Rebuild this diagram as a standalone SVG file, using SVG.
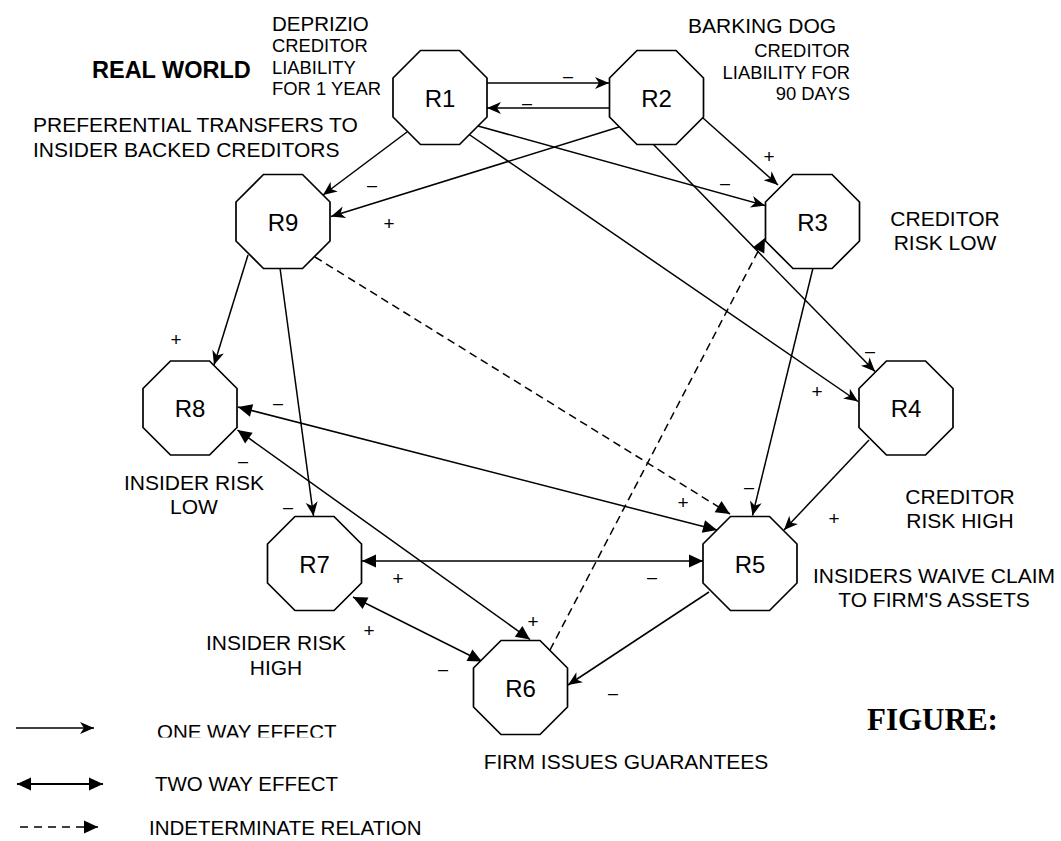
<svg xmlns="http://www.w3.org/2000/svg" width="1061" height="841" viewBox="0 0 1061 841">
<style>
.oct{fill:#fff;stroke:#000;stroke-width:1.7}
.nl{font-family:"Liberation Sans",Arial,sans-serif;font-size:24px;text-anchor:middle;fill:#000}
.t{font-family:"Liberation Sans",Arial,sans-serif;font-size:21px;fill:#000}
.s{font-family:"Liberation Sans",Arial,sans-serif;font-size:18.4px;fill:#000}
.m{text-anchor:middle}
.e{text-anchor:end}
.sg{font-family:"Liberation Sans",Arial,sans-serif;font-size:18px;text-anchor:middle;fill:#000}
.pl{font-size:19px}
.ln{fill:none;stroke:#000;stroke-width:1.5}
.one{marker-end:url(#a1)}
.two{marker-start:url(#a2);marker-end:url(#a2)}
.dsh{stroke-dasharray:8 5;marker-end:url(#a2)}
</style>
<defs>
<polygon id="oct" class="oct" points="-19.5,-47 19.5,-47 47,-19.5 47,19.5 19.5,47 -19.5,47 -47,19.5 -47,-19.5"/>
<marker id="a1" markerUnits="userSpaceOnUse" markerWidth="16" markerHeight="14" refX="14" refY="6" orient="auto" overflow="visible">
<path d="M0,0 L14,6 L0,12 L4,6 Z" fill="#000"/>
</marker>
<marker id="a2" markerUnits="userSpaceOnUse" markerWidth="16" markerHeight="14" refX="14" refY="6.5" orient="auto-start-reverse" overflow="visible">
<path d="M0,0 L14,6.5 L0,13 Z" fill="#000"/>
</marker>
<clipPath id="clipOne"><rect x="100" y="700" width="300" height="37.5"/></clipPath>
</defs>
<rect width="1061" height="841" fill="#fff"/>

<g id="connectors">
<line class="ln one" x1="487" y1="83" x2="609" y2="83"/>
<line class="ln one" x1="609" y1="108" x2="487" y2="108"/>
<line class="ln one" x1="407" y1="132" x2="323" y2="195"/>
<line class="ln one" x1="619" y1="127" x2="331" y2="216.5"/>
<line class="ln one" x1="478" y1="126" x2="765" y2="205.5"/>
<line class="ln one" x1="467" y1="133" x2="858" y2="401.5"/>
<line class="ln one" x1="703" y1="118" x2="778" y2="185"/>
<line class="ln one" x1="653" y1="144" x2="875" y2="371.5"/>
<line class="ln one" x1="813" y1="268" x2="752.5" y2="515.5"/>
<line class="ln one" x1="869" y1="440" x2="784" y2="530"/>
<line class="ln one" x1="248" y1="255" x2="214" y2="365"/>
<line class="ln one" x1="280" y1="268" x2="313.5" y2="516"/>
<line class="ln one" x1="709" y1="592" x2="568" y2="685"/>
<line class="ln dsh" x1="315" y1="257" x2="730" y2="514"/>
<line class="ln dsh" x1="550" y1="650" x2="765" y2="238"/>
<line class="ln two" x1="238" y1="407" x2="717" y2="530"/>
<line class="ln two" x1="237.5" y1="430" x2="530" y2="639.5"/>
<line class="ln two" x1="362" y1="561" x2="703" y2="561"/>
<line class="ln two" x1="353" y1="597" x2="482" y2="661.5"/>
</g>

<g id="signs">
<text class="sg" x="568" y="82">–</text>
<text class="sg" x="527" y="109">–</text>
<text class="sg" x="372" y="191">–</text>
<text class="sg pl" x="389" y="230">+</text>
<text class="sg" x="725" y="189">–</text>
<text class="sg pl" x="769" y="163">+</text>
<text class="sg" x="870" y="357">–</text>
<text class="sg pl" x="817" y="398">+</text>
<text class="sg" x="749" y="493">–</text>
<text class="sg pl" x="834" y="525">+</text>
<text class="sg pl" x="683" y="509">+</text>
<text class="sg" x="278" y="409">–</text>
<text class="sg" x="243" y="467">–</text>
<text class="sg" x="288" y="513">–</text>
<text class="sg pl" x="176" y="346">+</text>
<text class="sg pl" x="398" y="585">+</text>
<text class="sg" x="652" y="583">–</text>
<text class="sg pl" x="369" y="637">+</text>
<text class="sg" x="443" y="675">–</text>
<text class="sg pl" x="533" y="628">+</text>
<text class="sg" x="613" y="699">–</text>
</g>

<g id="R1"><use href="#oct" x="440" y="97.5"/><text class="nl" x="440" y="106.5">R1</text></g>
<g id="R2"><use href="#oct" x="656.5" y="97.5"/><text class="nl" x="656.5" y="106.5">R2</text></g>
<g id="R3"><use href="#oct" x="812.5" y="221.5"/><text class="nl" x="812.5" y="230.5">R3</text></g>
<g id="R4"><use href="#oct" x="906" y="408"/><text class="nl" x="906" y="417">R4</text></g>
<g id="R5"><use href="#oct" x="750" y="563.5"/><text class="nl" x="750" y="572.5">R5</text></g>
<g id="R6"><use href="#oct" x="520.5" y="687.5"/><text class="nl" x="520.5" y="696.5">R6</text></g>
<g id="R7"><use href="#oct" x="314.5" y="563.5"/><text class="nl" x="314.5" y="572.5">R7</text></g>
<g id="R8"><use href="#oct" x="190" y="408"/><text class="nl" x="190" y="417">R8</text></g>
<g id="R9"><use href="#oct" x="283" y="221.5"/><text class="nl" x="283" y="230.5">R9</text></g>

<g id="labels">
<text class="t" x="92" y="78" style="font-weight:bold;font-size:23.5px">REAL WORLD</text>
<text class="t" x="272" y="31" style="font-size:20.5px">DEPRIZIO</text>
<text class="s" x="272" y="52">CREDITOR</text>
<text class="s" x="272" y="73.5">LIABILITY</text>
<text class="s" x="272" y="94.5">FOR 1 YEAR</text>
<text class="t" x="33" y="132">PREFERENTIAL TRANSFERS TO</text>
<text class="t" x="33" y="157">INSIDER BACKED CREDITORS</text>
<text class="t" x="688" y="32.5">BARKING DOG</text>
<text class="s e" x="850" y="57">CREDITOR</text>
<text class="s e" x="850" y="78.5">LIABILITY FOR</text>
<text class="s e" x="850" y="99.5">90 DAYS</text>
<text class="t m" x="945" y="226">CREDITOR</text>
<text class="t m" x="945" y="249.5">RISK LOW</text>
<text class="t m" x="960" y="503.5">CREDITOR</text>
<text class="t m" x="960" y="527.5">RISK HIGH</text>
<text class="t m" x="934" y="583">INSIDERS WAIVE CLAIM</text>
<text class="t m" x="934" y="607">TO FIRM'S ASSETS</text>
<text class="t m" x="194" y="489.5">INSIDER RISK</text>
<text class="t m" x="194" y="514">LOW</text>
<text class="t m" x="276" y="650">INSIDER RISK</text>
<text class="t m" x="276" y="674.5">HIGH</text>
<text class="t m" x="626" y="768.5">FIRM ISSUES GUARANTEES</text>
<text x="867" y="730" style="font-family:'Liberation Serif','Times New Roman',serif;font-weight:bold;font-size:31px">FIGURE:</text>
</g>

<g id="legend">
<line class="ln one" x1="16" y1="728" x2="94" y2="728"/>
<text class="t" x="157" y="739" clip-path="url(#clipOne)" style="font-size:20.5px">ONE WAY EFFECT</text>
<line class="ln two" x1="17" y1="784" x2="103" y2="784" style="stroke-width:2"/>
<text class="t" x="155" y="790.7" style="font-size:20.5px">TWO WAY EFFECT</text>
<line class="ln" x1="20" y1="827" x2="98" y2="827" style="stroke-dasharray:8 6;marker-end:url(#a2)"/>
<text class="t" x="149" y="834.5" style="font-size:20.5px">INDETERMINATE RELATION</text>
</g>
</svg>
